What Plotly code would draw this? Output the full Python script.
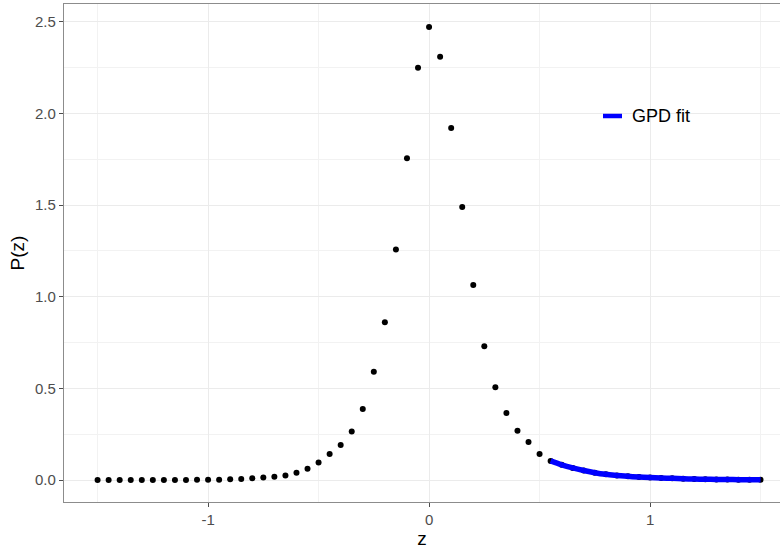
import plotly.graph_objects as go

# Empirical density of z on a 0.05 grid
z = [-1.5, -1.45, -1.4, -1.35, -1.3, -1.25, -1.2, -1.15, -1.1, -1.05,
     -1.0, -0.95, -0.9, -0.85, -0.8, -0.75, -0.7, -0.65, -0.6, -0.55,
     -0.5, -0.45, -0.4, -0.35, -0.3, -0.25, -0.2, -0.15, -0.1, -0.05,
     0.0, 0.05, 0.1, 0.15, 0.2, 0.25, 0.3, 0.35, 0.4, 0.45,
     0.5, 0.55, 0.6, 0.65, 0.7, 0.75, 0.8, 0.85, 0.9, 0.95,
     1.0, 1.05, 1.1, 1.15, 1.2, 1.25, 1.3, 1.35, 1.4, 1.45, 1.5]
p_z = [0.000, 0.000, 0.000, 0.000, 0.000, 0.000, 0.000, 0.000, 0.000, 0.001,
       0.001, 0.002, 0.004, 0.005, 0.009, 0.013, 0.018, 0.024, 0.040, 0.062,
       0.095, 0.142, 0.191, 0.264, 0.388, 0.590, 0.861, 1.257, 1.756, 2.249,
       2.471, 2.309, 1.920, 1.489, 1.064, 0.730, 0.506, 0.366, 0.269, 0.207,
       0.142, 0.104, 0.083, 0.066, 0.052, 0.040, 0.031, 0.025, 0.020, 0.016,
       0.013, 0.011, 0.009, 0.007, 0.005, 0.004, 0.003, 0.003, 0.002, 0.002, 0.001]

# Generalised Pareto fit of the upper tail
gpd_z = [0.55, 0.6, 0.65, 0.7, 0.75, 0.8, 0.85, 0.9, 0.95, 1.0,
         1.05, 1.1, 1.15, 1.2, 1.25, 1.3, 1.35, 1.4, 1.45, 1.5]
gpd_p = [0.104, 0.083, 0.066, 0.052, 0.040, 0.031, 0.025, 0.020, 0.016, 0.013,
         0.011, 0.009, 0.007, 0.005, 0.004, 0.003, 0.003, 0.002, 0.002, 0.001]

x_ticks = [-1, 0, 1]
y_ticks = [0.0, 0.5, 1.0, 1.5, 2.0, 2.5]
y_tick_text = ["0.0", "0.5", "1.0", "1.5", "2.0", "2.5"]

W, H = 780, 549
ML, MR, MT, MB = 64, 0, 4, 47

fig = go.Figure()
fig.add_trace(go.Scatter(
    x=z, y=p_z, mode="markers",
    marker=dict(color="black", size=6, line=dict(width=0)),
    showlegend=False, hoverinfo="x+y"))
fig.add_trace(go.Scatter(
    x=gpd_z, y=gpd_p, mode="lines", name="GPD fit",
    line=dict(color="#0000ff", width=5.5, shape="spline"),
    showlegend=False))

axis_font = dict(family="Liberation Sans, Arial, sans-serif", size=15, color="#4d4d4d")
title_font = dict(family="Liberation Sans, Arial, sans-serif", size=19, color="black")

fig.update_xaxes(
    range=[-1.652, 1.588], tickvals=x_ticks, ticktext=[str(v) for v in x_ticks],
    showgrid=True, gridcolor="#ebebeb", gridwidth=1.1,
    minor=dict(tickvals=[-1.5, -0.5, 0.5, 1.5], showgrid=True,
               gridcolor="#f2f2f2", gridwidth=0.6, ticks=""),
    zeroline=False, showline=True, linecolor="#8c8c8c", linewidth=1.3, mirror=True,
    ticks="outside", ticklen=4, tickcolor="#4d4d4d", tickwidth=1,
    tickfont=axis_font,
    title=dict(text="z", font=title_font, standoff=6))
fig.update_yaxes(
    range=[-0.12, 2.597], tickvals=y_ticks, ticktext=y_tick_text,
    showgrid=True, gridcolor="#ebebeb", gridwidth=1.1,
    minor=dict(tickvals=[0.25, 0.75, 1.25, 1.75, 2.25], showgrid=True,
               gridcolor="#f2f2f2", gridwidth=0.6, ticks=""),
    zeroline=False, showline=True, linecolor="#8c8c8c", linewidth=1.3, mirror=False,
    ticks="outside", ticklen=4, tickcolor="#4d4d4d", tickwidth=1,
    tickfont=axis_font,
    title=dict(text="P(z)", font=title_font, standoff=5))

# Legend key for the fitted curve, placed inside the panel
def px_x(px):
    return (px - ML) / (W - ML - MR)

def px_y(py):
    return (H - MB - py) / (H - MT - MB)

fig.add_shape(type="line", xref="paper", yref="paper",
              x0=px_x(603), x1=px_x(622), y0=px_y(116), y1=px_y(116),
              line=dict(color="#0000ff", width=4.5))
fig.add_annotation(xref="paper", yref="paper", x=px_x(630), y=px_y(116),
                   text="GPD fit", showarrow=False, xanchor="left", yanchor="middle",
                   font=dict(family="Liberation Sans, Arial, sans-serif", size=18, color="black"))

fig.update_layout(
    width=W, height=H,
    margin=dict(l=ML, r=MR, t=MT, b=MB, pad=0),
    paper_bgcolor="white", plot_bgcolor="white",
    showlegend=False)

fig.write_html("out.html")
